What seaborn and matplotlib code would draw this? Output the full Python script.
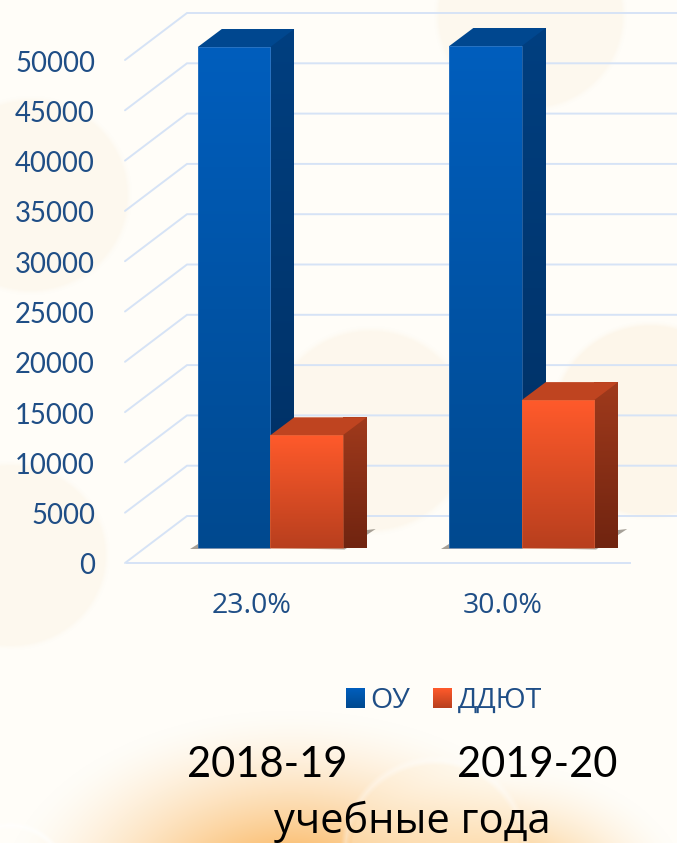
import numpy as np
import pandas as pd
import matplotlib
matplotlib.use('Agg')
import matplotlib.pyplot as plt
import seaborn as sns
from matplotlib.colors import LinearSegmentedColormap
from matplotlib.patches import Polygon
from matplotlib.transforms import IdentityTransform, ScaledTranslation

# значения читаем с картинки
categories = ['23.0%', '30.0%']
ou_values = [49800, 49900]
ddut_values = [11200, 14700]
series_names = ['ОУ', 'ДДЮТ']
y_ticks = list(range(0, 50001, 5000))
year_labels = ['2018-19', '2019-20']
x_title = 'учебные года'

W, H = 677, 843
TEXT_BLUE = '#1f4e86'
GRID = '#d6e3f6'
FONT = ['Open Sans', 'DejaVu Sans']

sns.set_theme(style='white')
plt.rcParams['font.family'] = ['Lato', 'Open Sans', 'DejaVu Sans']

fig = plt.figure(figsize=(W / 100, H / 100), dpi=100)

# фон: кремовый с бледными кругами и оранжевым свечением снизу
yy, xx = np.mgrid[0:H, 0:W]
bg = np.ones((H, W, 3)) * np.array([255, 253, 248]) / 255


def blob(cx, cy, rx, ry, color, strength, soft=0.06):
    d = np.hypot((xx - cx) / rx, (yy - cy) / ry)
    a = np.clip((1 - d) / soft, 0, 1) ** 1.5 * strength
    for i in range(3):
        bg[..., i] = bg[..., i] * (1 - a) + color[i] / 255 * a


def ring(cx, cy, r, width, strength):
    d = np.abs(np.hypot(xx - cx, yy - cy) - r) / width
    a = np.clip(1 - d, 0, 1) * strength
    for i in range(3):
        bg[..., i] = bg[..., i] * (1 - a) + a


PALE = (253, 248, 238)
blob(30, 195, 102, 100, PALE, 1)
blob(10, 555, 100, 95, PALE, 1)
blob(530, 15, 97, 97, PALE, 1)
blob(370, 430, 105, 105, (253, 247, 236), 0.9)
blob(650, 420, 102, 100, (253, 246, 234), 1)
blob(290, 900, 290, 190, (249, 170, 70), 1, 0.9)
blob(510, 900, 180, 135, (250, 185, 95), 0.9, 0.9)
blob(435, 850, 90, 93, (255, 240, 215), 0.3, 0.08)
ring(435, 850, 90, 5, 0.35)
ring(10, 880, 55, 4, 0.6)

ax_bg = fig.add_axes([0, 0, 1, 1], zorder=0)
ax_bg.imshow(bg, aspect='auto', interpolation='bilinear')
ax_bg.axis('off')

# основная ось: 0 на y=563, 50000 на y=60, x от 127 до 630
ax = fig.add_axes([127 / W, (H - 563) / H, 503 / W, 503 / H], zorder=1)
ax.patch.set_alpha(0)

df = pd.DataFrame({
    'cat': categories * 2,
    'series': [series_names[0]] * 2 + [series_names[1]] * 2,
    'value': ou_values + ddut_values,
})
sns.barplot(data=df, x='cat', y='value', hue='series', width=0.576, gap=0,
            palette=['#0055ab', '#e8552a'], saturation=1, ax=ax, zorder=3)
ax.set_xlim(-0.5, 1.5)
ax.set_ylim(0, 50000)
ax.set_xlabel('')
ax.set_ylabel('')
ax.set_yticks(y_ticks)
ax.tick_params(axis='y', length=0, pad=23, labelsize=19.8, labelcolor=TEXT_BLUE)
ax.tick_params(axis='x', length=0, pad=21, labelsize=20.5, labelcolor=TEXT_BLUE)
for lab in ax.get_xticklabels():
    lab.set_family(FONT)
    lab.set_transform(lab.get_transform() + ScaledTranslation(-1.5 / 100, 0, fig.dpi_scale_trans))
for lab in ax.get_yticklabels():
    lab.set_transform(lab.get_transform() + ScaledTranslation(0, -1 / 100, fig.dpi_scale_trans))
for name in ['top', 'right', 'left']:
    ax.spines[name].set_visible(False)
ax.spines['bottom'].set_color(GRID)
ax.spines['bottom'].set_linewidth(1.4)
ax.spines['bottom'].set_zorder(1)

# сетка на задней стенке и на левой грани
px = IdentityTransform()
DEPTH = (60, 47)
for v in y_ticks:
    x0, y0 = ax.transData.transform((-0.5, v))
    xb, yb = x0 + DEPTH[0], y0 + DEPTH[1]
    ax.plot([x0 - 2, xb, W], [y0, yb, yb], color=GRID, lw=1.4, transform=px,
            clip_on=False, zorder=1, solid_joinstyle='miter')

# псевдо-3D: сдвиг столбцов от оси и глубина
SHIFT = (17.5, 15)
BAR_DX, BAR_DY = 24, 18


def gradient(verts, top, bottom, zorder):
    verts = np.array(verts)
    cmap = LinearSegmentedColormap.from_list('g', [top, bottom])
    im = ax.imshow(np.linspace(0, 1, 256)[:, None], cmap=cmap, aspect='auto',
                   extent=(verts[:, 0].min(), verts[:, 0].max(),
                           verts[:, 1].min(), verts[:, 1].max()),
                   origin='upper', transform=px, zorder=zorder, clip_on=False)
    clip = Polygon(verts, closed=True, transform=px)
    im.set_clip_path(clip)


styles = {
    0: dict(front=('#005ebd', '#00498f'), side=('#003f80', '#002f62'), top='#00478f', edge='#4d86c8'),
    1: dict(front=('#ff5a2b', '#b83f1e'), side=('#a03a1c', '#702410'), top='#bf4420', edge='#d8683f'),
}
bars = [p for p in ax.patches if p.get_height() > 0]
for i, bar in enumerate(bars):
    st = styles[i // 2]
    (x0, y0), (x1, y1) = ax.transData.transform(
        [(bar.get_x(), 0), (bar.get_x() + bar.get_width(), bar.get_height())])
    x0, x1 = x0 + SHIFT[0], x1 + SHIFT[0]
    y0, y1 = y0 + SHIFT[1], y1 + SHIFT[1]
    bar.set_visible(False)
    z = 3 + i // 2 + (i % 2) * 0.1
    # тень на полу
    if i // 2 == 1:
        shadow = [(x0 - 7, y0), (x1 + 2, y0 - 1.5), (x1 + BAR_DX + 9, y0 + BAR_DY + 1),
                  (x1 + BAR_DX, y0 + BAR_DY)]
    else:
        shadow = [(x0 - 8, y0 - 0.5), (x1, y0 - 0.5), (x1, y0 + 4), (x0, y0 + 4)]
    ax.add_patch(Polygon(shadow, color='#6b6358', alpha=0.6, lw=0, transform=px,
                         clip_on=False, zorder=2))
    gradient([(x1, y0), (x1 + BAR_DX, y0 + BAR_DY), (x1 + BAR_DX, y1 + BAR_DY), (x1, y1)],
             st['side'][0], st['side'][1], z)
    ax.add_patch(Polygon([(x0, y1), (x0 + BAR_DX, y1 + BAR_DY), (x1 + BAR_DX, y1 + BAR_DY), (x1, y1)],
                         color=st['top'], lw=0, transform=px, clip_on=False, zorder=z))
    gradient([(x0, y0), (x1, y0), (x1, y1), (x0, y1)], st['front'][0], st['front'][1], z + 0.05)
    ax.add_patch(Polygon([(x0, y0), (x1, y0), (x1, y1), (x0, y1)], fill=False, edgecolor=st['edge'],
                         lw=0.6, alpha=0.6, transform=px, clip_on=False, zorder=z + 0.06))

ax.set_xlim(-0.5, 1.5)
ax.set_ylim(0, 50000)

leg = ax.legend(loc='center left', bbox_to_anchor=(346 / W, 1 - 701 / H),
                bbox_transform=fig.transFigure, ncol=2, frameon=False, title=None,
                labelcolor=TEXT_BLUE, handlelength=0.66, handleheight=0.66, borderpad=0,
                borderaxespad=0, handletextpad=0.2, columnspacing=0.8,
                prop={'family': FONT, 'size': 20.5})
for t in leg.get_texts():
    t.set_color(TEXT_BLUE)

fig.canvas.draw()
for patch, key in zip(leg.get_patches(), [0, 1]):
    b = patch.get_window_extent()
    leg_cmap = LinearSegmentedColormap.from_list('l', styles[key]['front'])
    ax.imshow(np.linspace(0, 1, 64)[:, None], cmap=leg_cmap, aspect='auto',
              extent=(b.x0, b.x1, b.y0, b.y1), origin='upper', transform=px,
              zorder=10, clip_on=False)
ax.set_xlim(-0.5, 1.5)
ax.set_ylim(0, 50000)

# подписи снизу
for label, x in zip(year_labels, [267, 537.5]):
    fig.text(x / W, 1 - 765 / H, label, ha='center', va='center', fontsize=30, color='black',
             zorder=5)
fig.text(412 / W, 1 - 822 / H, x_title, ha='center', va='center', fontsize=30, color='black',
         family=FONT, zorder=5)

fig.savefig('out.png', dpi=100)
